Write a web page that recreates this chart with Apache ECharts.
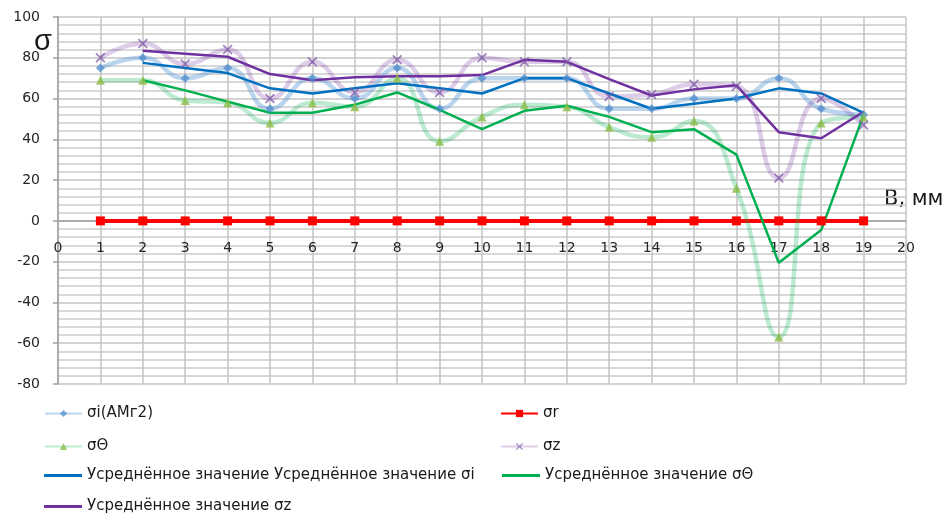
<!DOCTYPE html>
<html>
<head>
<meta charset="utf-8">
<script src="https://cdn.jsdelivr.net/npm/echarts@6/dist/echarts.min.js"></script>
<style>
  html, body { margin: 0; padding: 0; background: #fff; }
  #chart { width: 946px; height: 513px; }
</style>
</head>
<body>
<div id="chart"></div>
<script>
// Positions along the specimen, mm
const positions = [1, 2, 3, 4, 5, 6, 7, 8, 9, 10, 11, 12, 13, 14, 15, 16, 17, 18, 19];
const avgPositions = [2, 3, 4, 5, 6, 7, 8, 9, 10, 11, 12, 13, 14, 15, 16, 17, 18, 19];

// Stress components
const sigmaI = [75, 80, 70, 75, 55, 70, 60, 75, 55, 70, 70, 70, 55, 55, 60, 60, 70, 55, 52];
const sigmaR = [0, 0, 0, 0, 0, 0, 0, 0, 0, 0, 0, 0, 0, 0, 0, 0, 0, 0, 0];
const sigmaT = [69, 69, 59, 58, 48, 58, 56, 70, 39, 51, 57, 56, 46, 41, 49, 16, -57, 48, 51];
const sigmaZ = [80, 87, 77, 84, 60, 78, 63, 79, 63, 80, 78, 78, 61, 62, 67, 66, 21, 60, 47];

// Averaged curves
const avgI = [77.5, 75, 72.5, 65, 62.5, 65, 67.5, 65, 62.5, 70, 70, 62.5, 55, 57.5, 60, 65, 62.5, 53];
const avgT = [69, 64, 58.5, 53, 53, 57, 63, 54.5, 45, 54, 56.5, 51, 43.5, 45, 32.5, -20.5, -4.5, 52];
const avgZ = [83.5, 82, 80.5, 72, 69, 70.5, 71, 71, 71.5, 79, 78, 69.5, 61.5, 64.5, 66.5, 43.5, 40.5, 53.5];

// Axis ticks
const xTicks = [0, 1, 2, 3, 4, 5, 6, 7, 8, 9, 10, 11, 12, 13, 14, 15, 16, 17, 18, 19, 20];
const yTicks = [-80, -60, -40, -20, 0, 20, 40, 60, 80, 100];

const names = {
  i: 'σi(АМг2)',
  r: 'σr',
  t: 'σΘ',
  z: 'σz',
  ai: 'Усреднённое значение Усреднённое значение σi',
  at: 'Усреднённое значение σΘ',
  az: 'Усреднённое значение σz'
};

const pairs = (xs, ys) => xs.map((x, k) => [x, ys[k]]);
const crossSymbol = 'path://M0,1.2 L1.2,0 L5,3.8 L8.8,0 L10,1.2 L6.2,5 L10,8.8 L8.8,10 L5,6.2 L1.2,10 L0,8.8 L3.8,5 Z';

// plot box
const W = 946, H = 513;
const grid = { left: 58, right: 40, top: 17, bottom: 129 };
const yMin = yTicks[0], yMax = yTicks[yTicks.length - 1];
// the horizontal axis runs along y = 0, so lift it from the bottom edge of the plot
const plotH = H - grid.top - grid.bottom;
const xAxisLift = plotH * (0 - yMin) / (yMax - yMin);

const legendFont = { fontFamily: 'DejaVu Sans', fontSize: 15, color: '#1a1a1a' };
// legend entry with line + marker
function legendAt(name, left, top) {
  return {
    data: [name], left: left, top: top, padding: 0,
    itemWidth: 37, itemHeight: 9, itemGap: 0,
    textStyle: legendFont, selectedMode: false
  };
}
// legend entry drawn as a plain stroke for the averaged curves
function legendLineAt(name, left, top) {
  return {
    data: [{ name: name, icon: 'rect' }], left: left, top: top, padding: 0,
    itemWidth: 38, itemHeight: 3, itemGap: 0,
    textStyle: legendFont, selectedMode: false
  };
}

const chart = echarts.init(document.getElementById('chart'), null, { renderer: 'canvas' });
chart.setOption({
  animation: false,
  backgroundColor: '#ffffff',
  grid: grid,
  xAxis: {
    type: 'value', min: xTicks[0], max: xTicks[xTicks.length - 1], interval: 1,
    offset: -xAxisLift,
    axisLine: { onZero: false, lineStyle: { color: '#a0a0a0', width: 1.5 } },
    axisTick: { show: false },
    axisLabel: { margin: 20, fontFamily: 'DejaVu Sans', fontSize: 14, color: '#262626' },
    splitLine: { show: true, lineStyle: { color: '#c4c4c4', width: 1.5 } }
  },
  yAxis: {
    type: 'value', min: yMin, max: yMax, interval: 20,
    axisLine: { show: true, onZero: false, lineStyle: { color: '#a0a0a0', width: 1.5 } },
    axisTick: { show: true, length: 5, lineStyle: { color: '#a0a0a0', width: 1.5 } },
    axisLabel: { margin: 18, fontFamily: 'DejaVu Sans', fontSize: 14, color: '#262626' },
    splitLine: { show: true, lineStyle: { color: '#c4c4c4', width: 1.5 } },
    minorTick: { show: false, splitNumber: 5 },
    minorSplitLine: { show: true, lineStyle: { color: '#cccccc', width: 1.5 } }
  },
  legend: [
    legendAt(names.i, 44, 406),
    legendAt(names.r, 500, 406),
    legendAt(names.t, 44, 439),
    legendAt(names.z, 500, 439),
    legendLineAt(names.ai, 44, 468),
    legendLineAt(names.at, 502, 468),
    legendLineAt(names.az, 44, 499)
  ],
  graphic: [
    { type: 'text', left: 34, top: 27, style: { text: 'σ', font: '29px "Liberation Sans"', fill: '#1a1a1a' } },
    { type: 'text', left: 884, top: 189, style: { text: 'В, мм', font: '21px "DejaVu Sans"', fill: '#1a1a1a' } }
  ],
  series: [
    {
      name: names.i, type: 'line', smooth: 0.5, data: pairs(positions, sigmaI),
      lineStyle: { color: 'rgba(91,155,213,0.42)', width: 4.5 },
      itemStyle: { color: 'rgba(79,140,205,0.75)' },
      symbol: 'diamond', symbolSize: 9
    },
    {
      name: names.r, type: 'line', data: pairs(positions, sigmaR),
      lineStyle: { color: '#ff0000', width: 4 },
      itemStyle: { color: '#ff0000' },
      symbol: 'rect', symbolSize: 9
    },
    {
      name: names.t, type: 'line', smooth: 0.5, data: pairs(positions, sigmaT),
      lineStyle: { color: 'rgba(0,176,80,0.26)', width: 4.5 },
      itemStyle: { color: 'rgba(140,190,70,0.8)' },
      symbol: 'triangle', symbolSize: 9
    },
    {
      name: names.z, type: 'line', smooth: 0.5, data: pairs(positions, sigmaZ),
      lineStyle: { color: 'rgba(112,48,160,0.24)', width: 4.5 },
      itemStyle: { color: 'rgba(128,90,170,0.75)' },
      symbol: crossSymbol, symbolSize: 10
    },
    {
      name: names.ai, type: 'line', data: pairs(avgPositions, avgI),
      lineStyle: { color: '#0070c0', width: 2.5 }, itemStyle: { color: '#0070c0' },
      symbol: 'none'
    },
    {
      name: names.at, type: 'line', data: pairs(avgPositions, avgT),
      lineStyle: { color: '#00b050', width: 2.5 }, itemStyle: { color: '#00b050' },
      symbol: 'none'
    },
    {
      name: names.az, type: 'line', data: pairs(avgPositions, avgZ),
      lineStyle: { color: '#7030a0', width: 2.5 }, itemStyle: { color: '#7030a0' },
      symbol: 'none'
    }
  ]
});
</script>
</body>
</html>
